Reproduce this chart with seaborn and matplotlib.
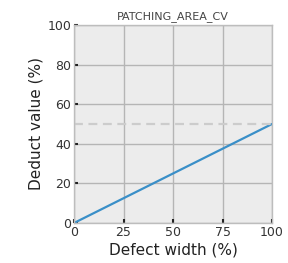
import matplotlib
matplotlib.use("Agg")
import matplotlib.pyplot as plt
import seaborn as sns
import pandas as pd

# data
defect_width = [0, 100]
deduct_value = [0, 50]
max_deduct = 50
x_ticks = [0, 25, 50, 75, 100]
y_ticks = [0, 20, 40, 60, 80, 100]

sns.set_theme(style="darkgrid")
plt.rcParams["font.family"] = ["DejaVu Sans"]

df = pd.DataFrame({"Defect width (%)": defect_width, "Deduct value (%)": deduct_value})

fig = plt.figure(figsize=(2.88, 2.63), dpi=100)
ax = fig.add_axes([74 / 288, 1 - 223 / 263, 198 / 288, 198 / 263])
ax.set_facecolor("#ececec")

sns.lineplot(data=df, x="Defect width (%)", y="Deduct value (%)",
             ax=ax, color="#3a8fc8", linewidth=1.6)
ax.axhline(max_deduct, color="#cccccc", linestyle="--", linewidth=1.6, dashes=(4, 2.5))

ax.set_xlim(0, 100)
ax.set_ylim(0, 100)
ax.set_xticks(x_ticks)
ax.set_yticks(y_ticks)
ax.grid(True, color="#b5b5b5", linewidth=1.0)
for s in ax.spines.values():
    s.set_visible(True)
    s.set_color("#bdbdbd")
    s.set_linewidth(1.0)
ax.tick_params(direction="in", length=3, width=1.5, color="#222222",
               labelsize=9, labelcolor="#333333", pad=2, left=True, bottom=True)
ax.set_xlabel("Defect width (%)", fontsize=11, color="#222222", labelpad=3)
ax.set_ylabel("Deduct value (%)", fontsize=11, color="#222222", labelpad=3)
ax.set_title("PATCHING_AREA_CV", fontsize=8, color="#444444", pad=4)

fig.savefig("out.png", dpi=100)
